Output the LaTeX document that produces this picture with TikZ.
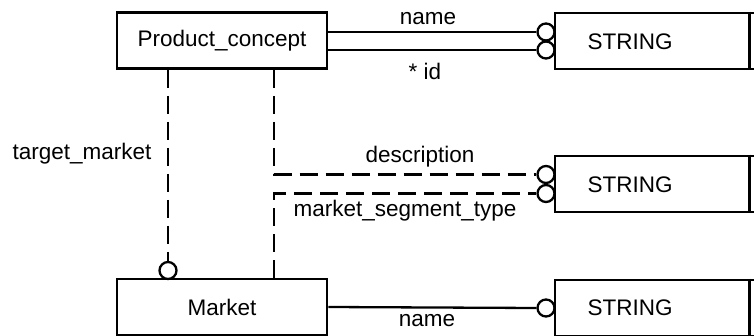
\documentclass[tikz,border=0pt]{standalone}
\usepackage{fontspec}
\setmainfont{Liberation Sans}
\begin{document}
\begin{tikzpicture}[x=1pt,y=-1pt,
  every node/.style={font=\fontsize{22.5}{27}\selectfont},
  ebox/.style={draw,line width=2.6pt,rectangle,inner sep=0pt,minimum width=210pt,minimum height=56pt},
  sbox/.style={draw,line width=2.6pt,rectangle,inner sep=0pt,minimum width=210pt,minimum height=56pt},
  oc/.style={draw,circle,line width=2.3pt,inner sep=0pt,minimum size=17pt,fill=white},
  conn/.style={line width=2.3pt},
  dconn/.style={line width=2.3pt,dash pattern=on 18pt off 8pt},
  lbl/.style={inner sep=0pt}]
\clip (0,0) rectangle (754,336);
\fill[white] (0,0) rectangle (754,336);
% entities
\node[ebox] (pc) at (222,40.5) {Product\_concept};
\node[ebox] (mk) at (222,307) {Market};
% STRING boxes
\node[sbox] (s1) at (660,41) {};
\node[sbox] (s2) at (660,184) {};
\node[sbox] (s3) at (660,308) {};
\draw[line width=2.6pt] ([xshift=-17pt]s1.north east) -- ([xshift=-17pt]s1.south east);
\draw[line width=2.6pt] ([xshift=-17pt]s2.north east) -- ([xshift=-17pt]s2.south east);
\draw[line width=2.6pt] ([xshift=-17pt]s3.north east) -- ([xshift=-17pt]s3.south east);
\node[lbl] (t1) at (630,42) {STRING};
\node[lbl] (t2) at (630,185) {STRING};
\node[lbl] (t3) at (630,308) {STRING};
% circles
\node[oc] (c1) at (546,32) {};
\node[oc] (c2) at (546,50) {};
\node[oc] (c3) at (546,174.5) {};
\node[oc] (c4) at (546,193.5) {};
\node[oc] (c5) at (168,270.5) {};
\node[oc] (c6) at (546,308) {};
% connectors
\draw[conn] (pc.east |- c1) -- (c1.west);
\draw[conn] (pc.east |- c2) -- (c2.west);
\draw[dconn] ([xshift=-54pt]pc.south east) |- (c3.west);
\draw[dconn] ([xshift=-54pt]mk.north east) |- (c4.west);
\draw[dconn] (pc.south -| c5) -- (c5.north);
\draw[conn] (mk.east) -- (c6.west);
% labels
\node[lbl] (l1) at (428,19) {name};
\node[lbl] (l2) at (425,71) {* id};
\node[lbl] (l3) at (420,157) {description};
\node[lbl] (l4) at (405,211) {market\_segment\_type};
\node[lbl] (l5) at (82,154) {target\_market};
\node[lbl] (l6) at (427,321) {name};
\end{tikzpicture}
\end{document}
